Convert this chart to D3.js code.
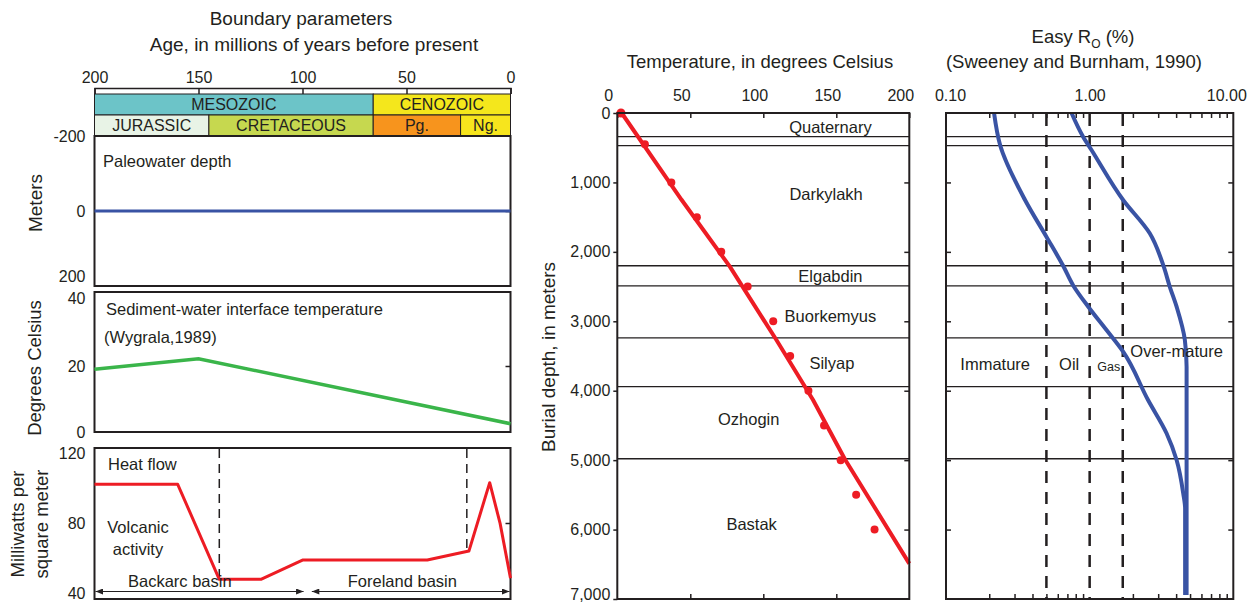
<!DOCTYPE html>
<html>
<head>
<meta charset="utf-8">
<script src="https://cdn.jsdelivr.net/npm/d3@7/dist/d3.min.js"></script>
<style>
  body { margin: 0; background: #fff; }
  svg { display: block; font-family: "Liberation Sans", Arial, sans-serif; }
  text { fill: #231f20; }
</style>
</head>
<body>
<svg></svg>
<script>
// ---- boundary parameters (left) ----
const ageTicks = [200, 150, 100, 50, 0];
const eraNames = ["MESOZOIC", "CENOZOIC"];
const eraAges = [[200, 66], [66, 0]];
const periodNames = ["JURASSIC", "CRETACEOUS", "Pg.", "Ng."];
const periodAges = [[200, 145], [145, 66], [66, 24], [24, 0]];

const waterTicks = [-200, 0, 200];
const waterAge = [200, 0];
const waterDepth = [0, 0];

const swiTicks = [0, 20, 40];
const swiAge = [200, 150, 0];
const swiTemp = [19, 22.2, 2.5];

const hfTicks = [40, 80, 120];
const hfAge = [200, 160, 140, 120, 100, 40, 20, 10, 5, 0];
const hfValue = [101.5, 101.5, 48.7, 48.7, 59.4, 59.4, 64.4, 102.4, 79.8, 49.3];
const eventAges = [140, 21];
const eventFlow = [48.7, 63];
const basinNames = ["Backarc basin", "Foreland basin"];
const basinAges = [[200, 99], [96, 0]];
const basinLabelAge = [159, 52];

// ---- burial / temperature (middle) ----
const tempTicks = [0, 50, 100, 150, 200];
const depthTicks = [0, 1000, 2000, 3000, 4000, 5000, 6000, 7000];
const formationBase = [340, 470, 2200, 2490, 3240, 3940, 4980];
const formationNames = ["Quaternary", "Darkylakh", "Elgabdin", "Buorkemyus", "Silyap", "Ozhogin", "Bastak"];
const formationSpot = [[146, 200], [143, 1170], [146, 2350], [146, 2920], [147, 3600], [90, 4410], [92, 5930]];
const modelTemp = [3, 44, 77, 109, 134, 156, 200];
const modelDepth = [0, 1250, 2210, 3270, 4130, 4990, 6490];
const measTemp = [2.5, 18.9, 37, 54.5, 71.2, 89.3, 106.8, 118.4, 130.9, 141.6, 153, 163.6, 176.2];
const measDepth = [0, 450, 1000, 1500, 2000, 2500, 3000, 3500, 4000, 4500, 5000, 5500, 6000];

// ---- Easy Ro (right) ----
const roTicks = [0.1, 1, 10];
const roMinor = [0.2, 0.3, 0.4, 0.5, 0.6, 0.7, 0.8, 0.9, 2, 3, 4, 5, 6, 7, 8, 9];
const roDepthA = [0, 461, 1253, 1782, 2204, 2487, 2790, 3126, 3438, 4134, 4613, 4998, 5477, 5700, 6942];
const roA = [0.216, 0.238, 0.355, 0.5, 0.655, 0.77, 0.978, 1.31, 1.71, 2.55, 3.43, 4.03, 4.48, 4.62, 4.62];
const roDepthB = [0, 341, 533, 1253, 1733, 2214, 2492, 2790, 3269, 3654, 6942];
const roB = [0.748, 0.9, 1.03, 1.71, 2.62, 3.28, 3.6, 4.03, 4.6, 4.73, 4.73];
const windowRo = [0.5, 1.0, 1.7];
const zoneNames = ["Immature", "Oil", "Gas", "Over-mature"];
const zoneSpot = [[0.22, 3615], [0.72, 3615], [1.36, 3650], [4.03, 3430]];

const ink = "#231f20";
const FONT = "'Liberation Sans', Arial, sans-serif";
const red = "#ed1c24", green = "#3ab54a", blue = "#3953a4";
const plain = d => String(d);

const svg = d3.select("svg").attr("width", 1254).attr("height", 606);

function styleAxis(g, size) {
  g.attr("font-family", FONT).attr("font-size", size);
  g.select(".domain").attr("stroke", ink).attr("stroke-width", 1.5);
  g.selectAll(".tick line").attr("stroke", ink).attr("stroke-width", 1.5);
  g.selectAll(".tick text").attr("fill", ink);
}

function frame(x0, x1, y0, y1) {
  svg.append("rect")
    .attr("x", x0).attr("y", y0)
    .attr("width", x1 - x0).attr("height", y1 - y0)
    .attr("fill", "none").attr("stroke", ink).attr("stroke-width", 2);
}

function label(x, y, str, size, anchor) {
  return svg.append("text")
    .attr("x", x).attr("y", y).attr("dy", "0.35em")
    .attr("font-size", size)
    .attr("text-anchor", anchor || "start")
    .text(str);
}

function vlabel(x, y, str, size) {
  return svg.append("text")
    .attr("transform", `translate(${x},${y}) rotate(-90)`)
    .attr("dy", "0.35em").attr("text-anchor", "middle")
    .attr("font-size", size).text(str);
}

// ================= LEFT =================
const xAge = d3.scaleLinear().domain([200, 0]).range([94.5, 510.5]);
const yWater = d3.scaleLinear().domain([-200, 200]).range([136, 286]);
const ySwi = d3.scaleLinear().domain([0, 40]).range([432, 300]);
const yHf = d3.scaleLinear().domain([40, 120]).range([595, 451]);

label(301, 18, "Boundary parameters", 19, "middle");
label(314, 44, "Age, in millions of years before present", 19, "middle");

svg.append("g").attr("transform", "translate(0,88)")
  .call(d3.axisTop(xAge).tickValues(ageTicks).tickSize(-6).tickPadding(5).tickFormat(plain))
  .call(styleAxis, 16);

const eraColors = ["#6cc4c8", "#f4e71c"];
const periodColors = ["#e8f3e6", "#c6d84f", "#f7941d", "#f7e51d"];
function band(names, ages, colors, y0, h) {
  const g = svg.append("g");
  g.selectAll("rect").data(names).join("rect")
    .attr("x", (d, i) => xAge(ages[i][0]))
    .attr("width", (d, i) => xAge(ages[i][1]) - xAge(ages[i][0]))
    .attr("y", y0).attr("height", h)
    .attr("fill", (d, i) => colors[i])
    .attr("stroke", ink).attr("stroke-width", 1);
  g.selectAll("text").data(names).join("text")
    .attr("x", (d, i) => (xAge(ages[i][0]) + xAge(ages[i][1])) / 2)
    .attr("y", y0 + h / 2).attr("dy", "0.36em")
    .attr("text-anchor", "middle").attr("font-size", 16)
    .attr("fill", "#3a3a3a")
    .text(d => d);
}
band(eraNames, eraAges, eraColors, 94, 21);
band(periodNames, periodAges, periodColors, 115, 21);

// paleowater depth
frame(94.5, 510.5, 136, 286);
const gw = svg.append("g").attr("transform", "translate(94.5,0)")
  .call(d3.axisLeft(yWater).tickValues(waterTicks).tickSize(0).tickPadding(9).tickFormat(plain))
  .call(styleAxis, 16);
gw.select(".domain").remove();
gw.selectAll(".tick text").filter(d => d === 200).attr("transform", "translate(0,-10)");
svg.append("g").attr("transform", "translate(510.5,0)")
  .call(d3.axisRight(yWater).tickValues([0]).tickSize(-5).tickFormat(""))
  .call(styleAxis, 16).select(".domain").remove();
svg.append("path")
  .datum(waterAge.map((a, i) => [a, waterDepth[i]]))
  .attr("fill", "none").attr("stroke", blue).attr("stroke-width", 3)
  .attr("d", d3.line().x(d => xAge(d[0])).y(d => yWater(d[1])));
label(103, 161, "Paleowater depth", 16.5);
vlabel(35, 203, "Meters", 19);

// sediment-water interface temperature
frame(94.5, 510.5, 292, 432);
const gs = svg.append("g").attr("transform", "translate(94.5,0)")
  .call(d3.axisLeft(ySwi).tickValues(swiTicks).tickSize(0).tickPadding(9).tickFormat(plain))
  .call(styleAxis, 16);
gs.select(".domain").remove();
gs.selectAll(".tick text").filter(d => d === 40).attr("transform", "translate(0,-2)");
svg.append("g").attr("transform", "translate(510.5,0)")
  .call(d3.axisRight(ySwi).tickValues([20]).tickSize(-5).tickFormat(""))
  .call(styleAxis, 16).select(".domain").remove();
svg.append("path")
  .datum(swiAge.map((a, i) => [a, swiTemp[i]]))
  .attr("fill", "none").attr("stroke", green).attr("stroke-width", 3.5)
  .attr("d", d3.line().x(d => xAge(d[0])).y(d => ySwi(d[1])));
label(106, 309, "Sediment-water interface temperature", 16.5);
label(104, 337, "(Wygrala,1989)", 16.5);
vlabel(35, 368, "Degrees Celsius", 18.5);

// heat flow
frame(94.5, 510.5, 448, 599);
const gh = svg.append("g").attr("transform", "translate(94.5,0)")
  .call(d3.axisLeft(yHf).tickValues(hfTicks).tickSize(0).tickPadding(9).tickFormat(plain))
  .call(styleAxis, 16);
gh.select(".domain").remove();
gh.selectAll(".tick text").filter(d => d === 120).attr("transform", "translate(0,2)");
gh.selectAll(".tick text").filter(d => d === 40).attr("transform", "translate(0,-2)");
svg.append("g").attr("transform", "translate(510.5,0)")
  .call(d3.axisRight(yHf).tickValues([80]).tickSize(-5).tickFormat(""))
  .call(styleAxis, 16).select(".domain").remove();

svg.selectAll("line.event").data(eventAges).join("line")
  .attr("class", "event")
  .attr("x1", d => xAge(d)).attr("x2", d => xAge(d))
  .attr("y1", 449).attr("y2", (d, i) => yHf(eventFlow[i]))
  .attr("stroke", ink).attr("stroke-width", 1.5).attr("stroke-dasharray", "9,6");

svg.append("path")
  .datum(hfAge.map((a, i) => [a, hfValue[i]]))
  .attr("fill", "none").attr("stroke", red).attr("stroke-width", 3)
  .attr("stroke-linejoin", "round")
  .attr("d", d3.line().x(d => xAge(d[0])).y(d => yHf(d[1])));

const defs = svg.append("defs");
defs.append("marker").attr("id", "arr")
  .attr("viewBox", "0 0 10 8").attr("refX", 10).attr("refY", 4)
  .attr("markerWidth", 9).attr("markerHeight", 6)
  .attr("markerUnits", "userSpaceOnUse").attr("orient", "auto-start-reverse")
  .append("path").attr("d", "M0,0L10,4L0,8Z").attr("fill", ink);

svg.selectAll("line.basin").data(basinNames).join("line")
  .attr("class", "basin")
  .attr("x1", (d, i) => xAge(basinAges[i][0]) + 1)
  .attr("x2", (d, i) => xAge(basinAges[i][1]) - 1)
  .attr("y1", 591.5).attr("y2", 591.5)
  .attr("stroke", ink).attr("stroke-width", 1.2)
  .attr("marker-start", "url(#arr)").attr("marker-end", "url(#arr)");
svg.selectAll("text.basin").data(basinNames).join("text")
  .attr("class", "basin")
  .attr("x", (d, i) => xAge(basinLabelAge[i])).attr("y", 581).attr("dy", "0.35em")
  .attr("text-anchor", "middle").attr("font-size", 16.5)
  .text(d => d);

label(108, 464, "Heat flow", 16.5);
label(138, 527, "Volcanic", 16.5, "middle");
label(138, 549, "activity", 16.5, "middle");
vlabel(18, 524, "Milliwatts per", 18.5);
vlabel(42, 524, "square meter", 18.5);

// ================= MIDDLE =================
const xT = d3.scaleLinear().domain([0, 200]).range([617.3, 909.3]);
const yD = d3.scaleLinear().domain([0, 7000]).range([113, 599]);

label(760, 62, "Temperature, in degrees Celsius", 18.5, "middle");

const gt = svg.append("g").attr("transform", "translate(0,113)")
  .call(d3.axisTop(xT).tickValues(tempTicks).tickSize(-5).tickPadding(12).tickFormat(plain))
  .call(styleAxis, 16);
gt.selectAll(".tick text").attr("dx", -9);
gt.select(".domain").remove();
svg.append("g").attr("transform", "translate(0,599)")
  .call(d3.axisBottom(xT).tickValues(tempTicks.slice(1, -1)).tickSize(-5).tickFormat(""))
  .call(styleAxis, 16).select(".domain").remove();
const gd = svg.append("g").attr("transform", "translate(617.3,0)")
  .call(d3.axisLeft(yD).tickValues(depthTicks).tickSize(4).tickPadding(3).tickFormat(d3.format(",")))
  .call(styleAxis, 16);
gd.select(".domain").remove();
gd.selectAll(".tick text").filter(d => d === 7000).attr("transform", "translate(0,-5)");
svg.append("g").attr("transform", "translate(909.3,0)")
  .call(d3.axisRight(yD).tickValues(depthTicks.slice(1, -1)).tickSize(-5).tickFormat(""))
  .call(styleAxis, 16).select(".domain").remove();

vlabel(548, 357, "Burial depth, in meters", 19);

// formation boundaries across both depth panels
const xRo = d3.scaleLog().domain([0.1, 10]).range([946, 1233.3]);
[[xT, 0, 200], [xRo, 0.1, 10]].forEach(([sx, a, b]) => {
  svg.append("g").selectAll("line").data(formationBase).join("line")
    .attr("x1", sx(a)).attr("x2", sx(b))
    .attr("y1", d => yD(d)).attr("y2", d => yD(d))
    .attr("stroke", ink).attr("stroke-width", 1.3);
});
svg.selectAll("text.fm").data(formationNames).join("text")
  .attr("class", "fm")
  .attr("x", (d, i) => xT(formationSpot[i][0]))
  .attr("y", (d, i) => yD(formationSpot[i][1])).attr("dy", "0.35em")
  .attr("text-anchor", "middle").attr("font-size", 16.5)
  .text(d => d);

svg.append("path")
  .datum(modelTemp.map((t, i) => [t, modelDepth[i]]))
  .attr("fill", "none").attr("stroke", red).attr("stroke-width", 4)
  .attr("stroke-linejoin", "round")
  .attr("d", d3.line().x(d => xT(d[0])).y(d => yD(d[1])));
svg.selectAll("circle.meas").data(measTemp).join("circle")
  .attr("class", "meas")
  .attr("cx", d => xT(d)).attr("cy", (d, i) => yD(measDepth[i]))
  .attr("r", (d, i) => i === 0 ? 4.5 : 4)
  .attr("fill", red);

frame(617.3, 909.3, 113, 599);

// ================= RIGHT =================
const title = svg.append("text").attr("x", 1083).attr("y", 37).attr("dy", "0.35em")
  .attr("text-anchor", "middle").attr("font-size", 18.5);
title.append("tspan").text("Easy R");
title.append("tspan").attr("font-size", 12).attr("dy", 5).text("O");
title.append("tspan").attr("dy", -5).text(" (%)");
label(1074, 62, "(Sweeney and Burnham, 1990)", 18.5, "middle");

const gr = svg.append("g").attr("transform", "translate(0,113)")
  .call(d3.axisTop(xRo).tickValues(roTicks).tickSize(0).tickPadding(12).tickFormat(d3.format(".2f")))
  .call(styleAxis, 16);
gr.select(".domain").remove();
gr.selectAll(".tick text").filter(d => d === 0.1).attr("dx", 4);
gr.selectAll(".tick text").filter(d => d === 10).attr("dx", -7);
svg.append("g").attr("transform", "translate(0,113)")
  .call(d3.axisTop(xRo).tickValues(roMinor).tickSize(-5).tickFormat(""))
  .call(styleAxis, 16).select(".domain").remove();
svg.append("g").attr("transform", "translate(0,599)")
  .call(d3.axisBottom(xRo).tickValues(roMinor).tickSize(-5).tickFormat(""))
  .call(styleAxis, 16).select(".domain").remove();
svg.append("g").attr("transform", "translate(946,0)")
  .call(d3.axisLeft(yD).tickValues(depthTicks.slice(1, -1)).tickSize(-5).tickFormat(""))
  .call(styleAxis, 16).select(".domain").remove();
svg.append("g").attr("transform", "translate(1233.3,0)")
  .call(d3.axisRight(yD).tickValues(depthTicks.slice(1, -1)).tickSize(-5).tickFormat(""))
  .call(styleAxis, 16).select(".domain").remove();

svg.selectAll("line.win").data(windowRo).join("line")
  .attr("class", "win")
  .attr("x1", d => xRo(d)).attr("x2", d => xRo(d))
  .attr("y1", 114).attr("y2", 598)
  .attr("stroke", ink).attr("stroke-width", 2.5).attr("stroke-dasharray", "12,9");

const roLine = d3.line().curve(d3.curveMonotoneY).x(d => xRo(d[0])).y(d => yD(d[1]));
[[roA, roDepthA], [roB, roDepthB]].forEach(([vals, deps]) => {
  svg.append("path")
    .datum(vals.map((v, i) => [v, deps[i]]))
    .attr("fill", "none").attr("stroke", blue).attr("stroke-width", 4)
    .attr("d", roLine);
});

svg.selectAll("text.zone").data(zoneNames).join("text")
  .attr("class", "zone")
  .attr("x", (d, i) => xRo(zoneSpot[i][0]))
  .attr("y", (d, i) => yD(zoneSpot[i][1])).attr("dy", "0.35em")
  .attr("text-anchor", "middle")
  .attr("font-size", d => d === "Gas" ? 12.5 : 16.5)
  .text(d => d);

frame(946, 1233.3, 113, 599);
</script>
</body>
</html>
